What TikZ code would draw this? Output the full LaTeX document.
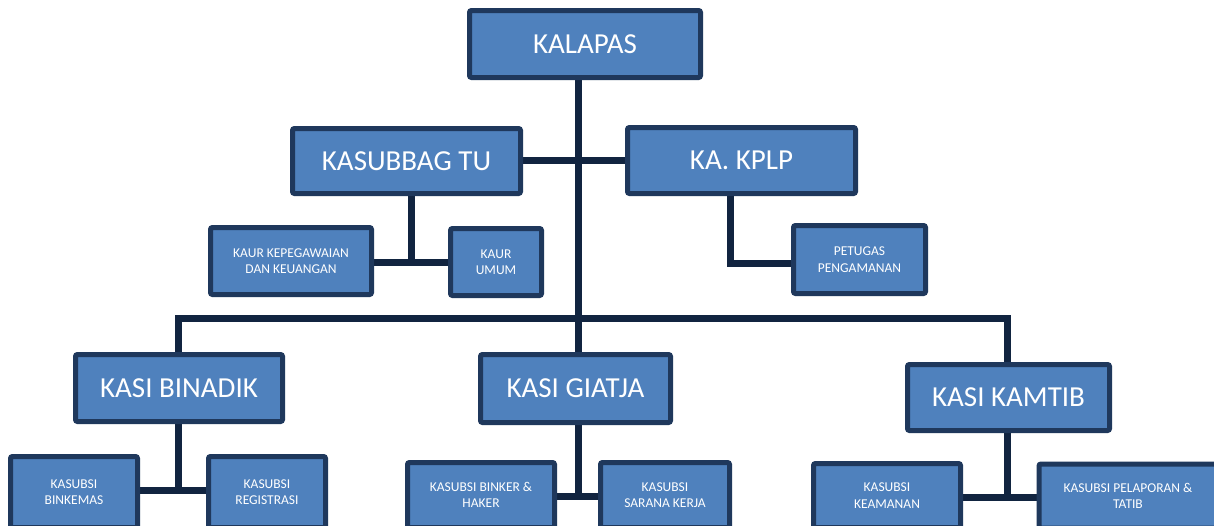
\documentclass[tikz,border=0pt]{standalone}
\usepackage{fontspec}
\setmainfont{Carlito}
\usetikzlibrary{backgrounds}
\definecolor{boxfill}{RGB}{79,129,189}
\definecolor{boxborder}{RGB}{31,56,92}
\definecolor{conn}{RGB}{17,36,64}
\tikzset{
  orgbox/.style={draw=boxborder, fill=boxfill, line width=5pt, rounded corners=2pt,
    text=white, inner sep=0pt, align=center},
  big/.style={orgbox, font=\fontsize{29}{33}\selectfont},
  small/.style={orgbox, font=\fontsize{13.5}{16.5}\selectfont},
  link/.style={draw=conn, line width=7pt},
}
\begin{document}
\begin{tikzpicture}[x=1pt,y=-1pt]
\useasboundingbox (0,0) rectangle (1214,525);
\clip (0,0) rectangle (1214,525);

% nodes
\node[big, minimum width=231pt, minimum height=67pt] (kalapas) at (585,44) {KALAPAS};
\node[big, minimum width=228pt, minimum height=65pt] (kasubbag) at (406.5,161) {KASUBBAG TU};
\node[big, minimum width=228pt, minimum height=66pt] (kplp) at (741.5,160.5) {KA. KPLP};
\node[small, minimum width=161pt, minimum height=67pt] (kaurkep) at (291,261) {KAUR KEPEGAWAIAN\\DAN KEUANGAN};
\node[small, minimum width=91pt, minimum height=67pt] (kaurumum) at (496,262) {KAUR\\UMUM};
\node[small, minimum width=132pt, minimum height=68pt] (petugas) at (859.5,259.5) {PETUGAS\\PENGAMANAN};
\node[big, minimum width=207pt, minimum height=67pt] (binadik) at (179,388) {KASI BINADIK};
\node[big, minimum width=190pt, minimum height=68pt] (giatja) at (575.5,388.5) {KASI GIATJA};
\node[big, minimum width=202pt, minimum height=66pt] (kamtib) at (1008.5,397.5) {KASI KAMTIB};
\node[small, minimum width=127pt, minimum height=71pt] (binkemas) at (74,492) {KASUBSI\\BINKEMAS};
\node[small, minimum width=117pt, minimum height=71pt] (registrasi) at (267,492) {KASUBSI\\REGISTRASI};
\node[small, minimum width=147pt, minimum height=65pt] (binker) at (481,495) {KASUBSI BINKER \&\\HAKER};
\node[small, minimum width=129pt, minimum height=65pt] (sarana) at (665,495) {KASUBSI\\SARANA KERJA};
\node[small, minimum width=147pt, minimum height=64pt] (keamanan) at (887,495.5) {KASUBSI\\KEAMANAN};
\node[small, minimum width=178pt, minimum height=64pt] (pelaporan) at (1128,496) {KASUBSI PELAPORAN \&\\TATIB};

% junction coordinates
\coordinate (trunk) at (578,318);
\coordinate (barL) at (178,318);
\coordinate (barR) at (1007,318);
\coordinate (j1) at (411,262);
\coordinate (j2) at (730,263);
\coordinate (j3) at (178,490);
\coordinate (j4) at (578,496);
\coordinate (j5) at (1007,497);
\coordinate (lv1) at (578,160);

% connectors (behind nodes)
\begin{pgfonlayer}{background}
\fill[white] (0,0) rectangle (1214,525);
\draw[link] (trunk |- kalapas.south) -- (trunk);
\draw[link] (kasubbag.east |- lv1) -- (kplp.west |- lv1);
\draw[link] (barL |- binadik.north) -- (barL) -- (barR) -- (barR |- kamtib.north);
\draw[link] (trunk) -- (trunk |- giatja.north);
\draw[link] (j1 |- kasubbag.south) -- (j1);
\draw[link] (kaurkep.east |- j1) -- (kaurumum.west |- j1);
\draw[link] (j2 |- kplp.south) -- (j2) -- (petugas.west |- j2);
\draw[link] (j3 |- binadik.south) -- (j3);
\draw[link] (binkemas.east |- j3) -- (registrasi.west |- j3);
\draw[link] (j4 |- giatja.south) -- (j4);
\draw[link] (binker.east |- j4) -- (sarana.west |- j4);
\draw[link] (j5 |- kamtib.south) -- (j5);
\draw[link] (keamanan.east |- j5) -- (pelaporan.west |- j5);
\end{pgfonlayer}
\end{tikzpicture}
\end{document}
